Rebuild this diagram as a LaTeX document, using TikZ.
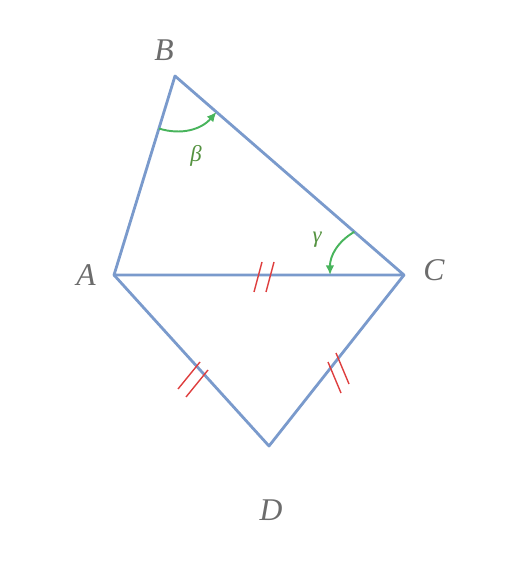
\documentclass[tikz,border=0pt]{standalone}
\usepackage{fontspec}
\setmainfont{Liberation Serif}
\usepackage{xcolor}
\usepackage{tikz}
\usetikzlibrary{arrows,arrows.meta,calc}

\definecolor{edge_blue}{RGB}{122,154,204}
\definecolor{tick_red}{RGB}{222,62,62}
\definecolor{arc_green}{RGB}{72,180,92}
\definecolor{angle_green}{RGB}{84,146,64}
\definecolor{label_gray}{RGB}{108,108,108}

\begin{document}
\begin{tikzpicture}[x=0.02cm,y=-0.02cm]
		\tikzstyle{edge}=[draw=edge_blue, line width=1.6pt, line join=round]
		\tikzstyle{tick}=[draw=tick_red, line width=0.8pt]
		\tikzstyle{angle_arc}=[draw=arc_green, line width=1.1pt, -{Latex[length=5.5pt,width=5pt]}]
		\tikzstyle{vertex_text}=[text=label_gray, font=\fontsize{18}{21}\selectfont\itshape]
		\tikzstyle{angle_text}=[text=angle_green, font=\fontsize{13}{15}\selectfont\itshape]

		\useasboundingbox (0,0) rectangle (523,570);

		% corners
		\coordinate (A) at (114,275);
		\coordinate (B) at (175,76);
		\coordinate (C) at (404,275);
		\coordinate (D) at (269,446);

		\draw [edge] (A) -- (B) -- (C) -- cycle;
		\draw [edge] (A) -- (D) -- (C);

		\node [vertex_text] (lA) at (86,275) {A};
		\node [vertex_text] (lB) at (164,50) {B};
		\node [vertex_text] (lC) at (434,270) {C};
		\node [vertex_text] (lD) at (271,510) {D};

		% angles
		\path (B) -- (A) coordinate[pos=0.264] (b1);
		\path (B) -- (C) coordinate[pos=0.181] (b2);
		\draw [angle_arc] (b1) to[bend right=33] (b2);
		\node [angle_text] (beta) at (196,156) {β};

		\path (C) -- (B) coordinate[pos=0.217] (g1);
		\path (C) -- (A) coordinate[pos=0.255] (g2);
		\draw [angle_arc] (g1) to[bend right=30] (g2);
		\node [angle_text] (gamma) at (317,240) {γ};

		% equal sides
		\coordinate (mAC) at ($(A)!0.5!(C)$);
		\coordinate (mAD) at ($(A)!0.5!(D)$);
		\coordinate (mCD) at ($(C)!0.5!(D)$);

		\draw [tick] ([shift={(-5,17)}]mAC) -- ++(8,-30);
		\draw [tick] ([shift={(7,17)}]mAC) -- ++(8,-30);
		\draw [tick] ([shift={(-13.5,28.5)}]mAD) -- ++(22,-27);
		\draw [tick] ([shift={(-5.5,36.5)}]mAD) -- ++(22,-27);
		\draw [tick] ([shift={(-8.5,1.5)}]mCD) -- ++(13,31);
		\draw [tick] ([shift={(-0.5,-7.5)}]mCD) -- ++(13,31);

	\end{tikzpicture}
\end{document}
